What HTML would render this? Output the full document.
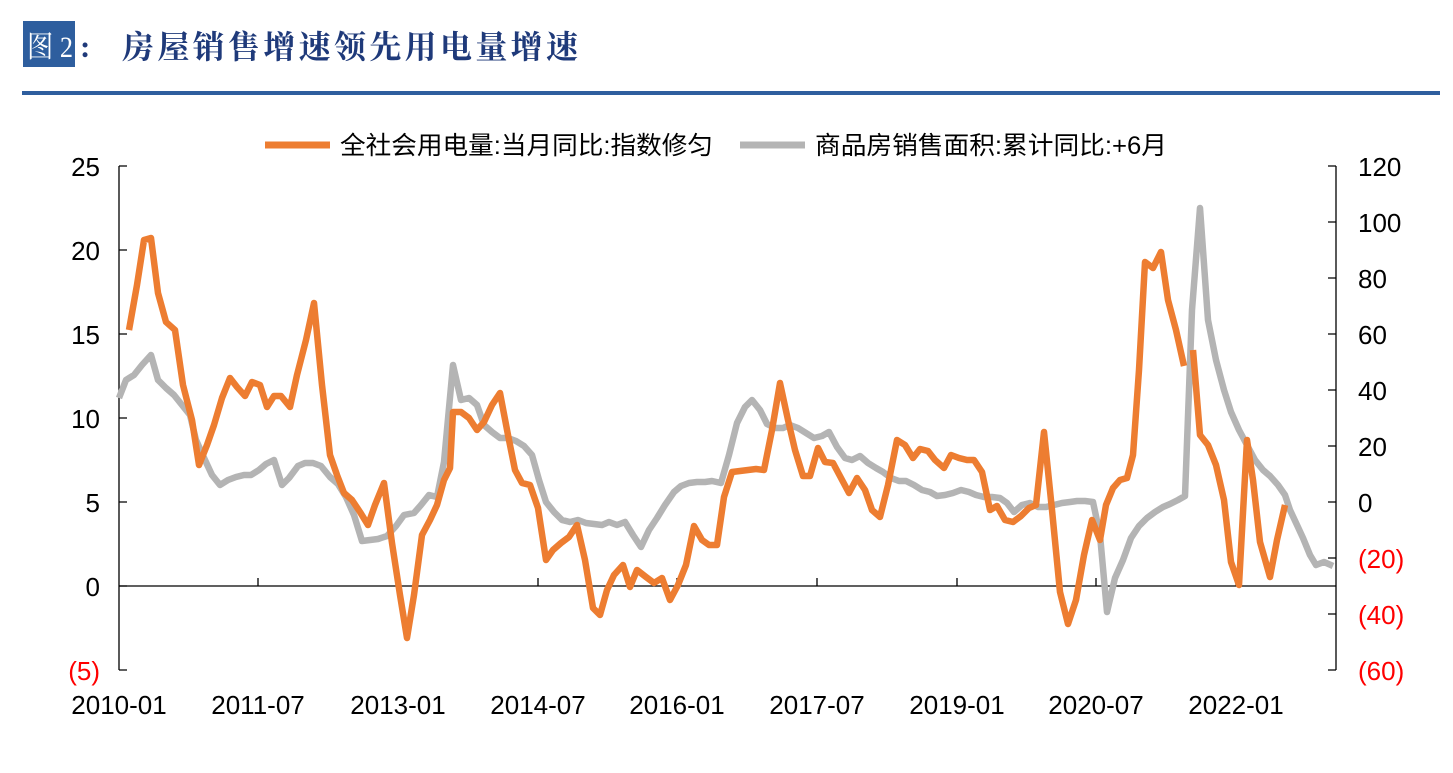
<!DOCTYPE html>
<html><head><meta charset="utf-8"><style>
body{margin:0;background:#fff;width:1453px;height:768px;overflow:hidden}
</style></head><body>
<svg width="1453" height="768" xmlns="http://www.w3.org/2000/svg" font-family="Liberation Sans, Noto Sans CJK SC, sans-serif">
<rect x="23" y="21" width="52" height="46" fill="#2E5E9E"/>
<text x="27" y="57" font-family="Liberation Serif, Noto Serif CJK SC, serif" font-size="30" fill="#fff" textLength="46" lengthAdjust="spacingAndGlyphs">图 2</text>
<text x="80" y="57" font-family="Liberation Serif, Noto Serif CJK SC, serif" font-size="31" font-weight="bold" fill="#1F3A7A">:</text>
<text x="122" y="58" font-family="Noto Serif CJK SC, serif" font-size="32" font-weight="bold" fill="#1F3A7A" textLength="456" lengthAdjust="spacing">房屋销售增速领先用电量增速</text>
<rect x="22" y="91" width="1418" height="4" fill="#2E5E9E"/>
<line x1="265" y1="145" x2="330" y2="145" stroke="#ED7D31" stroke-width="7"/>
<text x="340" y="154" font-size="25" fill="#000" textLength="373" lengthAdjust="spacingAndGlyphs">全社会用电量:当月同比:指数修匀</text>
<line x1="740" y1="145" x2="805" y2="145" stroke="#B4B4B4" stroke-width="7"/>
<text x="815" y="154" font-size="25" fill="#000" textLength="352" lengthAdjust="spacingAndGlyphs">商品房销售面积:累计同比:+6月</text>
<g stroke="#000" stroke-width="1.3" fill="none">
<line x1="119" y1="166" x2="119" y2="670"/>
<line x1="1336" y1="166" x2="1336" y2="670"/>
<line x1="119" y1="586" x2="1336" y2="586"/>
<path d="M119 166h8M119 250h8M119 334h8M119 418h8M119 502h8M119 586h8M119 670h8"/>
<path d="M1328 166h8M1328 222h8M1328 278h8M1328 334h8M1328 390h8M1328 446h8M1328 502h8M1328 558h8M1328 614h8M1328 670h8"/>
<path d="M258 586v-8M398 586v-8M538 586v-8M677 586v-8M817 586v-8M957 586v-8M1096 586v-8M1236 586v-8"/>
</g>
<g font-size="26" text-anchor="end">
<text x="100" y="176">25</text><text x="100" y="260">20</text><text x="100" y="344">15</text><text x="100" y="428">10</text><text x="100" y="512">5</text><text x="100" y="596">0</text><text x="100" y="680" fill="#f00">(5)</text>
</g>
<g font-size="26">
<text x="1358" y="176">120</text><text x="1358" y="232">100</text><text x="1358" y="288">80</text><text x="1358" y="344">60</text><text x="1358" y="400">40</text><text x="1358" y="456">20</text><text x="1358" y="512">0</text>
<text x="1358" y="568" fill="#f00">(20)</text><text x="1358" y="624" fill="#f00">(40)</text><text x="1358" y="680" fill="#f00">(60)</text>
</g>
<g font-size="26" text-anchor="middle">
<text x="119" y="714">2010-01</text><text x="258" y="714">2011-07</text><text x="398" y="714">2013-01</text><text x="538" y="714">2014-07</text><text x="677" y="714">2016-01</text><text x="817" y="714">2017-07</text><text x="957" y="714">2019-01</text><text x="1096" y="714">2020-07</text><text x="1236" y="714">2022-01</text>
</g>
<g fill="none" stroke-width="6.5" stroke-linejoin="round">
<polyline stroke="#B4B4B4" points="119,398 126,380 134,375 142,365 151,355 158,380 166,388 174,395 182,405 190,415 196,440 205,460 212,475 220,485 228,480 236,477 244,475 251,475 259,470 266,464 274,460 282,485 289,478 298,466 305,463 313,463 321,466 330,477 338,484 346,497 354,515 362,541 370,540 378,539 387,536 396,526 404,515 414,513 421,505 429,495 437,497 444,462 453,365 461,400 469,398 477,405 484,425 492,432 500,438 508,438 516,441 524,446 532,455 539,480 546,502 554,512 562,520 570,522 578,520 586,523 594,524 602,525 609,522 617,525 625,522 633,535 641,547 649,530 657,518 665,505 674,492 681,486 689,483 697,482 705,482 712,481 721,483 729,455 737,423 745,407 752,400 760,410 767,424 775,428 783,428 790,425 798,428 806,433 814,438 822,436 829,432 837,447 845,458 852,460 860,456 868,463 876,468 883,472 891,478 899,481 906,481 914,485 922,490 930,492 937,496 945,495 953,493 961,490 969,492 976,495 984,497 992,497 1000,498 1007,503 1014,512 1022,505 1030,503 1038,507 1046,507 1054,505 1062,503 1070,502 1077,501 1085,501 1093,502 1100,535 1107,612 1115,578 1123,560 1131,538 1139,526 1147,518 1155,512 1163,507 1170,504 1178,500 1185,496 1192,310 1200,208 1208,320 1216,360 1224,390 1231,412 1239,430 1247,445 1255,460 1263,470 1270,476 1278,485 1285,495 1290,510 1297,525 1303,538 1310,555 1316,565 1324,562 1333,566"/>
<polyline stroke="#ED7D31" points="129,330 137,285 144,240 151,238 158,293 166,322 175,330 183,385 192,420 199,465 207,445 214,425 222,398 230,378 237,387 245,396 252,382 260,385 267,407 274,396 281,396 290,407 297,375 306,340 314,303 322,385 330,455 337,475 344,493 352,500 360,512 368,525 375,505 384,483 392,543 400,595 407,638 414,595 422,535 430,520 437,505 444,480 450,468 453,412 461,412 469,418 477,430 484,422 492,405 500,393 508,435 515,470 522,483 530,485 538,508 546,560 553,550 561,543 569,537 577,525 585,560 593,608 600,615 607,590 614,575 623,565 630,587 637,570 646,577 654,583 662,578 670,600 678,585 686,565 694,526 702,540 709,545 717,545 724,497 732,472 740,471 748,470 756,469 764,470 772,430 780,383 788,420 795,450 803,476 810,476 818,448 825,462 833,463 841,478 849,493 857,478 865,490 872,510 880,517 888,485 897,440 905,445 913,458 920,449 928,451 935,460 944,468 951,455 959,458 967,460 974,460 982,472 990,510 997,506 1005,520 1013,522 1021,516 1029,508 1036,505 1044,432 1052,510 1060,592 1068,624 1076,600 1084,555 1092,520 1100,540 1106,505 1113,488 1120,480 1127,478 1133,455 1139,370 1145,262 1153,268 1161,252 1168,300 1176,330 1184,366"/>
<polyline stroke="#ED7D31" points="1193,350 1200,435 1208,445 1216,465 1224,500 1231,562 1239,585 1247,440 1253,480 1260,542 1270,577 1277,540 1285,505"/>
</g>
</svg>
</body></html>
